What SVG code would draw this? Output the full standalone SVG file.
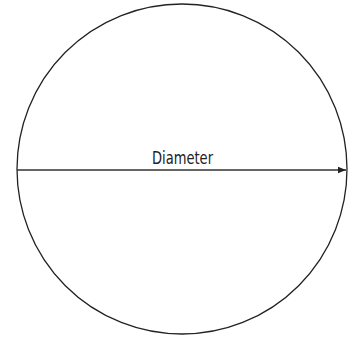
<svg xmlns="http://www.w3.org/2000/svg" width="348" height="340" viewBox="0 0 348 340">
<defs>
<marker id="arr" viewBox="0 0 10 10" refX="10" refY="5" markerWidth="8" markerHeight="8" markerUnits="userSpaceOnUse" orient="auto"><path d="M0,1 L10,5 L0,9 Z" fill="#222"/></marker>
<style>.lbl{font-family:"DejaVu Sans Condensed","Liberation Sans Narrow","Liberation Sans",sans-serif;font-size:18px;fill:#222}</style>
</defs>
<rect width="348" height="340" fill="#fff"/>
<g id="circle"><circle cx="182" cy="169" r="165" fill="none" stroke="#222" stroke-width="1.3"/></g>
<g id="connectors"><line x1="17" y1="170" x2="346" y2="170" stroke="#333" stroke-width="1.3" marker-end="url(#arr)"/></g>
<g id="label"><text class="lbl" x="152" y="164" textLength="61" lengthAdjust="spacingAndGlyphs">Diameter</text></g>
</svg>
